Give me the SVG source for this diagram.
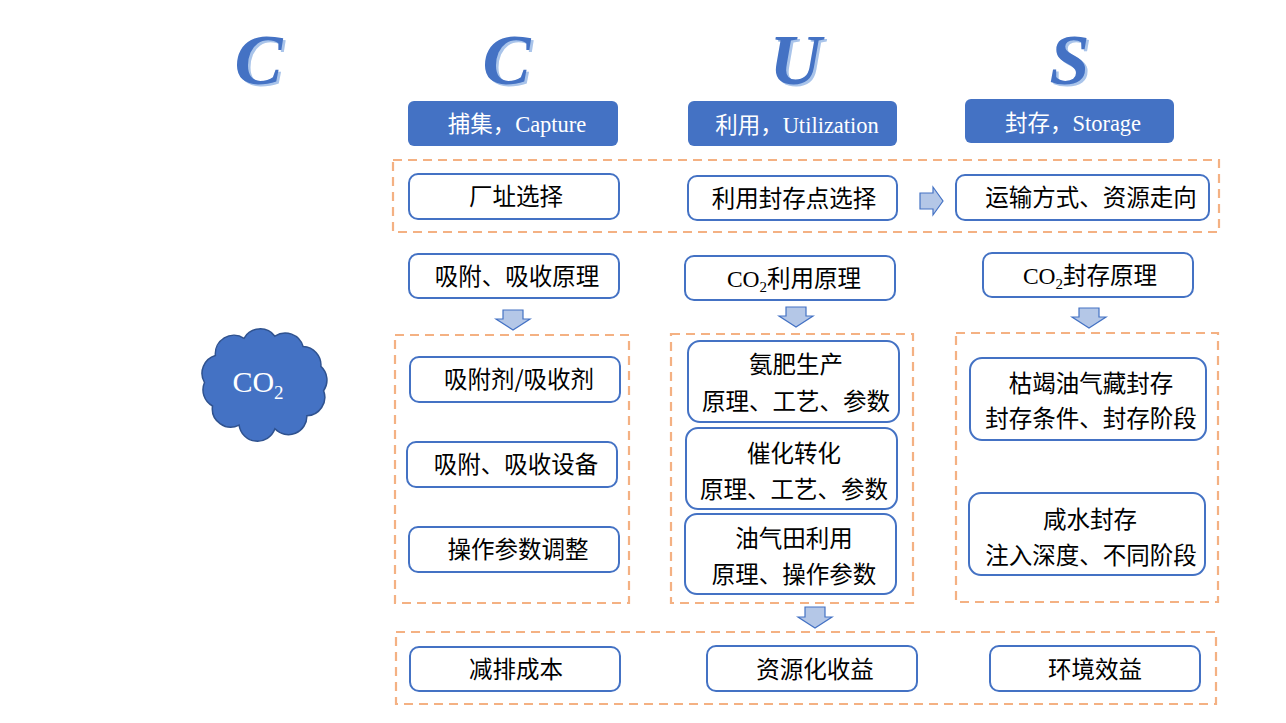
<svg xmlns="http://www.w3.org/2000/svg" width="1286" height="723" viewBox="0 0 1286 723">
<style>
.big{font-family:"Liberation Serif",serif;font-weight:bold;font-style:italic;font-size:72px;text-anchor:middle}
.bigs{fill:#A9C4EA}
.bigm{fill:#4472C4}
.hdr{fill:#4472C4}
.htx{font-family:"Liberation Serif","Noto Sans CJK SC",serif;font-size:22.5px;fill:#fff;text-anchor:middle}
.dash{fill:none;stroke:#F4B183;stroke-width:2.2;stroke-dasharray:9 6}
.box{fill:#fff;stroke:#4472C4;stroke-width:2}
.tx{font-family:"Noto Sans CJK SC",sans-serif;font-size:23.5px;fill:#000;text-anchor:middle}
.txs{font-family:"Liberation Serif","Noto Sans CJK SC",serif;font-size:23.5px;fill:#000;text-anchor:middle}
.arr{fill:#B4C7E7;stroke:#4472C4;stroke-width:1.2}
</style>
<rect width="1286" height="723" fill="#fff"/>

<g id="letters">
<text class="big bigs" x="261" y="86">C</text><text class="big bigm" x="258.5" y="84">C</text>
<text class="big bigs" x="509" y="86">C</text><text class="big bigm" x="506.5" y="84">C</text>
<text class="big bigs" x="798" y="86">U</text><text class="big bigm" x="795.5" y="84">U</text>
<text class="big bigs" x="1072" y="86">S</text><text class="big bigm" x="1069.5" y="84">S</text>
</g>

<g id="header-capture"><rect class="hdr" x="408" y="101" width="210" height="45" rx="6"/><text class="htx" x="517" y="132">捕集，Capture</text></g>
<g id="header-utilization"><rect class="hdr" x="688" y="101" width="209" height="45" rx="6"/><text class="htx" x="797" y="133">利用，Utilization</text></g>
<g id="header-storage"><rect class="hdr" x="965" y="99" width="209" height="44" rx="6"/><text class="htx" x="1073" y="131">封存，Storage</text></g>

<g id="containers">
<rect class="dash" x="393" y="160" width="826" height="72"/>
<rect class="dash" x="395" y="335" width="234" height="268"/>
<rect class="dash" x="671" y="334" width="242" height="269"/>
<rect class="dash" x="956" y="333" width="262" height="269"/>
<rect class="dash" x="396" y="632" width="820" height="72"/>
</g>

<g id="cloud">
<path d="M204.5 382.5 A18.5 18.5 0 0 1 215.4 355.5 A18.5 18.5 0 0 1 244 338.3 A18.5 18.5 0 0 1 274.9 336.2 A18.5 18.5 0 0 1 303.1 346.5 A18.5 18.5 0 0 1 320.9 366.4 A18.5 18.5 0 0 1 323.6 390.7 A18.5 18.5 0 0 1 306.9 415.7 A18.5 18.5 0 0 1 274.9 428.8 A18.5 18.5 0 0 1 239.1 425.1 A18.5 18.5 0 0 1 212.5 406 A18.5 18.5 0 0 1 204.5 382.5 Z" fill="#4472C4" stroke="#2F528F" stroke-width="1.5"/>
<text x="258" y="392" font-family="Liberation Serif,serif" font-size="30" fill="#fff" text-anchor="middle">CO<tspan font-size="19" dy="7">2</tspan></text>
</g>

<g id="n-site"><rect class="box" x="409" y="174" width="210" height="45" rx="9"/><text class="tx" x="516" y="205">厂址选择</text></g>
<g id="n-usite"><rect class="box" x="688" y="176" width="209" height="44" rx="9"/><text class="tx" x="794" y="207">利用封存点选择</text></g>
<g id="n-transport"><rect class="box" x="956" y="175" width="253" height="45" rx="9"/><text class="tx" x="1091" y="206">运输方式、资源走向</text></g>

<g id="n-cap-principle"><rect class="box" x="409" y="254" width="210" height="44" rx="9"/><text class="tx" x="517" y="285">吸附、吸收原理</text></g>
<g id="n-use-principle"><rect class="box" x="685" y="256" width="210" height="44" rx="9"/><text class="txs" x="794" y="287">CO<tspan font-size="15" dy="5">2</tspan><tspan dy="-5">利用原理</tspan></text></g>
<g id="n-store-principle"><rect class="box" x="983" y="253" width="210" height="44" rx="9"/><text class="txs" x="1090" y="284">CO<tspan font-size="15" dy="5">2</tspan><tspan dy="-5">封存原理</tspan></text></g>

<g id="n-sorbent"><rect class="box" x="410" y="357" width="210" height="45" rx="9"/><text class="tx" x="519" y="388">吸附剂/吸收剂</text></g>
<g id="n-equip"><rect class="box" x="407" y="442" width="210" height="45" rx="9"/><text class="tx" x="516" y="473">吸附、吸收设备</text></g>
<g id="n-operate"><rect class="box" x="409" y="527" width="210" height="45" rx="9"/><text class="tx" x="518" y="558">操作参数调整</text></g>

<g id="n-ammonia"><rect class="box" x="688" y="341" width="211" height="81" rx="12"/><text class="tx" x="796" y="373">氨肥生产</text><text class="tx" x="796" y="410">原理、工艺、参数</text></g>
<g id="n-catalysis"><rect class="box" x="686" y="428" width="211" height="81" rx="12"/><text class="tx" x="794" y="462">催化转化</text><text class="tx" x="794" y="498">原理、工艺、参数</text></g>
<g id="n-oilfield"><rect class="box" x="685" y="514" width="211" height="80" rx="12"/><text class="tx" x="794" y="547">油气田利用</text><text class="tx" x="794" y="583">原理、操作参数</text></g>

<g id="n-depleted"><rect class="box" x="970" y="358" width="236" height="82" rx="12"/><text class="tx" x="1091" y="392">枯竭油气藏封存</text><text class="tx" x="1091" y="427">封存条件、封存阶段</text></g>
<g id="n-saline"><rect class="box" x="969" y="493" width="236" height="82" rx="12"/><text class="tx" x="1090" y="528">咸水封存</text><text class="tx" x="1091" y="564">注入深度、不同阶段</text></g>

<g id="n-cost"><rect class="box" x="410" y="647" width="210" height="44" rx="9"/><text class="tx" x="516" y="678">减排成本</text></g>
<g id="n-revenue"><rect class="box" x="707" y="646" width="210" height="45" rx="9"/><text class="tx" x="815" y="678">资源化收益</text></g>
<g id="n-env"><rect class="box" x="990" y="646" width="210" height="45" rx="9"/><text class="tx" x="1095" y="678">环境效益</text></g>

<g id="connectors">
<path class="arr" d="M920 193 H933 V187 L943 201 L933 215 V209 H920 Z"/>
<path class="arr" d="M503 310 H523 V319 H530 L513 330 L496 319 H503 Z"/>
<path class="arr" d="M786 307 H806 V316 H813 L796 327 L779 316 H786 Z"/>
<path class="arr" d="M1079 308 H1099 V317 H1106 L1089 328 L1072 317 H1079 Z"/>
<path class="arr" d="M805 607 H825 V617 H832 L815 628 L798 617 H805 Z"/>
</g>
</svg>
